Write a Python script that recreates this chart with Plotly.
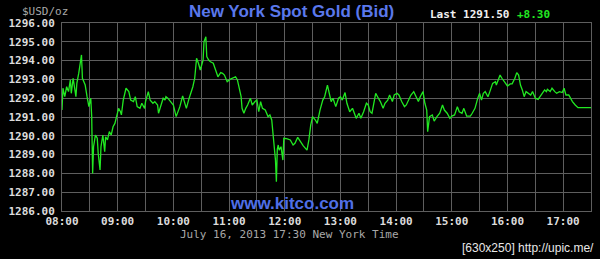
import pandas as pd
import plotly.graph_objects as go

# ---- data (minutes after 08:00 ET, bid price USD/oz) ----
minutes = [0, 1, 3, 5, 7, 9, 10, 12, 15, 16, 18, 21, 22, 25, 27, 29, 31, 32, 33, 34,
           36, 38, 39, 41, 42, 44, 46, 47, 49, 51, 53, 55, 57, 59, 61, 63, 64, 66, 69, 72,
           74, 77, 79, 81, 84, 86, 89, 90, 93, 95, 96, 98, 100, 103, 104, 106, 109, 111, 112, 114,
           117, 120, 123, 127, 130, 134, 137, 141, 143, 145, 147, 149, 152, 153, 155, 156, 158, 160, 163, 166,
           168, 171, 173, 175, 178, 181, 184, 187, 189, 191, 193, 194, 196, 198, 200, 203, 205, 208, 210, 212,
           214, 216, 219, 222, 224, 226, 227, 229, 230, 231, 232, 233, 234, 236, 238, 239, 242, 246, 249, 251,
           254, 257, 260, 264, 266, 268, 270, 273, 275, 278, 281, 283, 286, 288, 290, 292, 295, 298, 300, 302,
           305, 307, 310, 313, 315, 317, 320, 322, 325, 328, 330, 332, 334, 337, 338, 340, 343, 346, 348, 351,
           353, 356, 358, 361, 363, 366, 369, 371, 373, 376, 379, 381, 384, 386, 389, 391, 393, 394, 396, 399,
           401, 404, 407, 410, 412, 415, 418, 420, 423, 426, 428, 431, 433, 436, 440, 442, 445, 448, 450, 452,
           454, 456, 459, 461, 464, 467, 468, 470, 472, 474, 477, 480, 483, 485, 488, 490, 492, 494, 496, 498,
           500, 502, 505, 507, 510, 513, 515, 518, 520, 522, 523, 526, 528, 531, 533, 536, 539, 541, 543, 546,
           547, 550, 553, 556, 570]
prices = [1291.37, 1292.53, 1292.08, 1292.61, 1292.35, 1292.97, 1292.26, 1293.06, 1292.08, 1292.79,
          1293.32, 1294.30, 1293.06, 1292.70, 1292.08, 1291.55, 1292.00, 1291.02, 1288.00, 1289.42,
          1290.04, 1289.87, 1289.07, 1288.18, 1289.42, 1290.04, 1289.15, 1289.95, 1289.78, 1290.22,
          1290.04, 1290.48, 1290.66, 1291.02, 1291.46, 1291.28, 1291.11, 1291.90, 1292.53, 1292.35,
          1291.90, 1291.82, 1292.08, 1291.55, 1291.46, 1291.73, 1291.46, 1291.82, 1292.35, 1291.90,
          1291.82, 1291.73, 1291.82, 1291.64, 1291.20, 1291.55, 1292.00, 1291.90, 1292.08, 1292.00,
          1291.82, 1291.64, 1291.02, 1291.55, 1292.12, 1291.46, 1292.00, 1292.61, 1293.06, 1294.12,
          1293.86, 1293.50, 1294.03, 1295.00, 1295.27, 1294.21, 1294.03, 1293.94, 1293.86, 1293.41,
          1293.14, 1293.36, 1293.32, 1293.23, 1292.88, 1293.00, 1293.06, 1293.14, 1292.97, 1292.53,
          1292.08, 1291.46, 1291.20, 1291.46, 1291.64, 1292.00, 1291.64, 1291.82, 1291.90, 1291.28,
          1291.82, 1291.46, 1291.37, 1291.02, 1291.11, 1290.84, 1290.31, 1289.40, 1288.71, 1287.56,
          1289.30, 1289.51, 1289.24, 1289.42, 1288.71, 1289.87, 1289.85, 1289.78, 1289.51, 1289.60,
          1289.92, 1289.69, 1289.46, 1289.24, 1289.78, 1290.57, 1291.02, 1290.84, 1290.66, 1291.37,
          1291.90, 1292.08, 1292.70, 1292.26, 1291.82, 1292.00, 1291.55, 1292.00, 1292.08, 1291.90,
          1292.30, 1291.73, 1291.28, 1291.46, 1291.20, 1290.93, 1291.20, 1290.93, 1291.28, 1291.73,
          1291.64, 1291.28, 1291.20, 1291.90, 1292.26, 1292.08, 1291.82, 1291.46, 1291.73, 1291.90,
          1292.17, 1291.82, 1292.17, 1292.26, 1292.17, 1291.82, 1291.55, 1291.64, 1291.82, 1292.17,
          1292.35, 1292.17, 1291.82, 1292.08, 1292.35, 1291.73, 1291.37, 1290.22, 1291.02, 1291.11,
          1290.78, 1291.02, 1291.20, 1291.64, 1291.37, 1291.20, 1290.93, 1291.05, 1291.11, 1291.55,
          1291.28, 1291.20, 1291.46, 1291.05, 1291.05, 1291.20, 1291.46, 1292.00, 1292.26, 1291.90,
          1292.26, 1292.35, 1292.08, 1292.35, 1292.79, 1292.88, 1292.70, 1292.97, 1293.23, 1293.06,
          1292.88, 1292.65, 1292.76, 1292.76, 1293.06, 1293.36, 1293.23, 1292.70, 1292.44, 1292.08,
          1292.35, 1292.26, 1292.17, 1292.35, 1292.00, 1291.94, 1292.08, 1292.26, 1292.44, 1292.35,
          1292.47, 1292.35, 1292.53, 1292.35, 1292.26, 1292.35, 1292.30, 1292.53, 1292.17, 1292.17,
          1292.08, 1291.82, 1291.64, 1291.50, 1291.50]

session_date = "2013-07-16"
session_start = "08:00"
session_end = "17:30"
y_min, y_max = 1286, 1296
last_price = 1291.50
change = 8.30

title_text = "New York Spot Gold (Bid)"
unit_text = "$USD/oz"
footer_text = "July 16, 2013 17:30 New York Time"
watermark_text = "www.kitco.com"
credit_text = "[630x250] http://upic.me/"

times = pd.Timestamp(f"{session_date} {session_start}") + pd.to_timedelta(minutes, unit="m")

MONO = "DejaVu Sans Mono"
SANS = "Liberation Sans, Arial"
GRID = "#5e5e5e"

fig = go.Figure()
fig.add_trace(go.Scatter(
    x=times, y=prices, mode="lines",
    line=dict(color="#22e822", width=1.3),
    hoverinfo="skip", showlegend=False,
))

W, H = 600, 259
L, R, T, B = 58, 8, 23, 48

fig.update_layout(
    width=W, height=H,
    margin=dict(l=L, r=R, t=T, b=B),
    paper_bgcolor="black", plot_bgcolor="black",
    showlegend=False,
    xaxis=dict(
        type="date",
        range=[f"{session_date} {session_start}", f"{session_date} {session_end}"],
        tick0=f"{session_date} {session_start}", dtick=3600000,
        tickformat="%H:%M",
        showgrid=True, gridcolor=GRID, gridwidth=1,
        minor=dict(dtick=1800000, tick0=f"{session_date} {session_start}",
                   showgrid=True, gridcolor=GRID, gridwidth=1),
        showline=True, linecolor=GRID, linewidth=1, mirror=True,
        zeroline=False, ticks="", ticklabelstandoff=0,
        tickfont=dict(family=MONO, size=11, color="#dcdcdc", weight="bold"),
        fixedrange=True,
    ),
    yaxis=dict(
        range=[y_min, y_max], dtick=1, tick0=y_min,
        tickformat=".2f",
        showgrid=True, gridcolor=GRID, gridwidth=1,
        showline=True, linecolor=GRID, linewidth=1, mirror=True,
        zeroline=False, ticks="", ticklabelstandoff=4,
        tickfont=dict(family=MONO, size=11, color="#dcdcdc", weight="bold"),
        fixedrange=True,
    ),
)

pw, ph = W - L - R, H - T - B

def px(xp):
    return (xp - L) / pw

def py(yp):
    return (H - B - yp) / ph

ann = [
    dict(text=f"<b>{title_text}</b>", x=px(290), y=py(12), xanchor="center", yanchor="middle",
         font=dict(family=SANS, size=17, color="#5a78ec")),
    dict(text=unit_text, x=px(41), y=py(11), xanchor="center", yanchor="middle",
         font=dict(family=MONO, size=11, color="#a8a8a8")),
    dict(text=f"<b>Last {last_price:.2f}</b>", x=px(428), y=py(15), xanchor="left", yanchor="middle",
         font=dict(family=MONO, size=11, color="#f0f0f0")),
    dict(text=f"<b>{change:+.2f}</b>", x=px(516), y=py(15), xanchor="left", yanchor="middle",
         font=dict(family=MONO, size=11, color="#22e822")),
    dict(text=f"<b>{watermark_text}</b>", x=px(290), y=py(203), xanchor="center", yanchor="middle",
         font=dict(family=SANS, size=17, color="#4f6fe6")),
    dict(text=footer_text, x=px(288), y=py(234), xanchor="center", yanchor="middle",
         font=dict(family=MONO, size=11, color="#a8a8a8")),
    dict(text=credit_text, x=px(596), y=py(248), xanchor="right", yanchor="middle",
         font=dict(family=SANS, size=12, color="#e8e8e8")),
]
for a in ann:
    a.update(xref="paper", yref="paper", showarrow=False, borderpad=0)
    fig.add_annotation(**a)

fig.write_html("out.html")
